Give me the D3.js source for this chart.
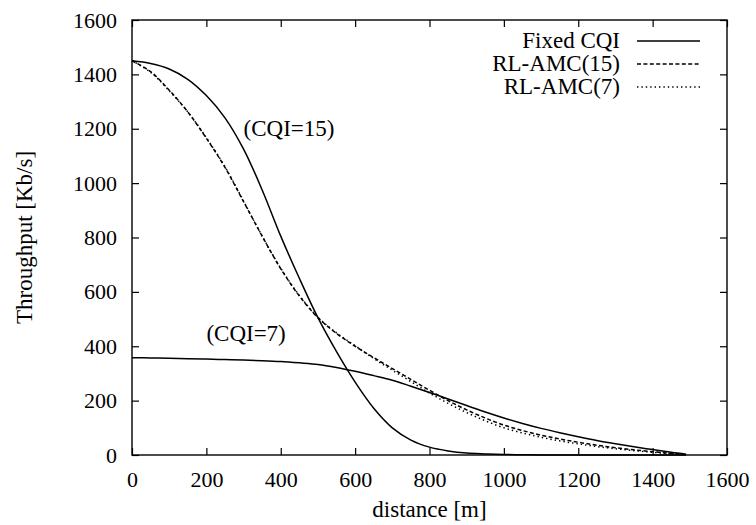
<!DOCTYPE html>
<html>
<head>
<meta charset="utf-8">
<script src="https://cdn.jsdelivr.net/npm/d3@7/dist/d3.min.js"></script>
<style>
  html, body { margin: 0; padding: 0; background: #fff; }
  svg text { font-family: "Liberation Serif", "DejaVu Serif", serif; fill: #000; }
</style>
</head>
<body>
<svg id="chart" width="756" height="525"></svg>
<script>
// Throughput versus distance for fixed CQI and RL-based AMC
const distance = [0, 50, 100, 150, 200, 250, 300, 350, 400, 450, 500, 550, 600, 650, 700, 750,
  800, 850, 900, 950, 1000, 1050, 1100, 1150, 1200, 1250, 1300, 1350, 1400, 1450, 1490];

const fixedCqi15 = [1450, 1440, 1420, 1382, 1322, 1240, 1125, 975, 805, 650, 505, 380, 268, 172, 100, 55,
  29, 15, 7, 4, 2, 1, 0, 0, 0, 0, 0, 0, 0, 0, 0];
const fixedCqi7 = [358, 357, 356, 354, 353, 351, 349, 347, 344, 339, 333, 322, 308, 292, 275, 253,
  230, 206, 182, 158, 136, 116, 98, 82, 67, 53, 41, 30, 20, 10, 3];
const rlAmc15 = [1450, 1410, 1342, 1262, 1165, 1058, 932, 805, 685, 585, 505, 447, 400, 358, 318, 278,
  238, 200, 166, 136, 110, 90, 73, 59, 47, 36, 27, 19, 12, 6, 2];
const rlAmc7 = [1450, 1408, 1340, 1262, 1167, 1060, 934, 805, 687, 587, 507, 449, 402, 355, 312, 270,
  228, 190, 156, 126, 100, 81, 65, 52, 41, 31, 23, 16, 10, 5, 2];

const xTicks = [0, 200, 400, 600, 800, 1000, 1200, 1400, 1600];
const yTicks = [0, 200, 400, 600, 800, 1000, 1200, 1400, 1600];

const seriesNames = ["Fixed CQI", "RL-AMC(15)", "RL-AMC(7)"];
const annotations = [
  { text: "(CQI=15)", d: 300, v: 1172 },
  { text: "(CQI=7)", d: 200, v: 420 }
];

const svg = d3.select("#chart");
const margin = { left: 132, right: 29, top: 20, bottom: 70 };
const W = 756, H = 525;
const fontSize = 23;
const tickFont = 22;

const x = d3.scaleLinear().domain([0, 1600]).range([margin.left, W - margin.right]);
const y = d3.scaleLinear().domain([0, 1600]).range([H - margin.bottom, margin.top]);

const tickLen = 7;
const fmt = d3.format("d");

// bottom axis with ticks pointing inward
svg.append("g")
  .attr("transform", `translate(0,${y(0)})`)
  .call(d3.axisBottom(x).tickValues(xTicks).tickFormat(fmt).tickSizeInner(-tickLen).tickSizeOuter(0).tickPadding(16));
// left axis
svg.append("g")
  .attr("transform", `translate(${x(0)},0)`)
  .call(d3.axisLeft(y).tickValues(yTicks).tickFormat(fmt).tickSizeInner(-tickLen).tickSizeOuter(0).tickPadding(15));
// mirrored ticks on top and right
svg.append("g")
  .attr("transform", `translate(0,${y(1600)})`)
  .call(d3.axisTop(x).tickValues(xTicks).tickSizeInner(-tickLen).tickSizeOuter(0).tickFormat(""));
svg.append("g")
  .attr("transform", `translate(${x(1600)},0)`)
  .call(d3.axisRight(y).tickValues(yTicks).tickSizeInner(-tickLen).tickSizeOuter(0).tickFormat(""));

svg.selectAll(".domain").remove();
svg.selectAll(".tick line").attr("stroke", "#000").attr("stroke-width", 1.2);
svg.selectAll(".tick text").attr("font-size", tickFont).attr("font-family", "Liberation Serif");

// frame
svg.append("rect")
  .attr("x", x(0)).attr("y", y(1600))
  .attr("width", x(1600) - x(0)).attr("height", y(0) - y(1600))
  .attr("fill", "none").attr("stroke", "#000").attr("stroke-width", 1.4);

// axis titles
svg.append("text")
  .attr("x", (x(0) + x(1600)) / 2).attr("y", 517)
  .attr("text-anchor", "middle").attr("font-size", fontSize)
  .text("distance [m]");
svg.append("text")
  .attr("transform", `translate(32,${(y(0) + y(1600)) / 2}) rotate(-90)`)
  .attr("text-anchor", "middle").attr("font-size", fontSize)
  .text("Throughput [Kb/s]");

// curves
const line = vals => d3.line()
  .x((d, i) => x(distance[i]))
  .y(d => y(d))
  .curve(d3.curveCatmullRom.alpha(0.5))(vals);

const styles = [
  { dash: null },
  { dash: "4,2.4" },
  { dash: "1.4,3" }
];

const g = svg.append("g");
function drawCurve(vals, style) {
  g.append("path")
    .attr("d", line(vals))
    .attr("fill", "none")
    .attr("stroke", "#000")
    .attr("stroke-width", 1.5)
    .attr("stroke-dasharray", style.dash);
}
drawCurve(fixedCqi15, styles[0]);
drawCurve(fixedCqi7, styles[0]);
drawCurve(rlAmc15, styles[1]);
drawCurve(rlAmc7, styles[2]);

// annotations
annotations.forEach(a => {
  svg.append("text")
    .attr("x", x(a.d)).attr("y", y(a.v))
    .attr("font-size", fontSize)
    .attr("text-anchor", "start")
    .text(a.text);
});

// legend
const legend = svg.append("g");
const legendRowY = [41, 64, 87];
seriesNames.forEach((name, i) => {
  legend.append("text")
    .attr("x", 620).attr("y", legendRowY[i] + 7)
    .attr("text-anchor", "end").attr("font-size", fontSize)
    .text(name);
  legend.append("line")
    .attr("x1", 637).attr("x2", 700)
    .attr("y1", legendRowY[i]).attr("y2", legendRowY[i])
    .attr("stroke", "#000").attr("stroke-width", 1.5)
    .attr("stroke-dasharray", styles[i].dash);
});
</script>
</body>
</html>
